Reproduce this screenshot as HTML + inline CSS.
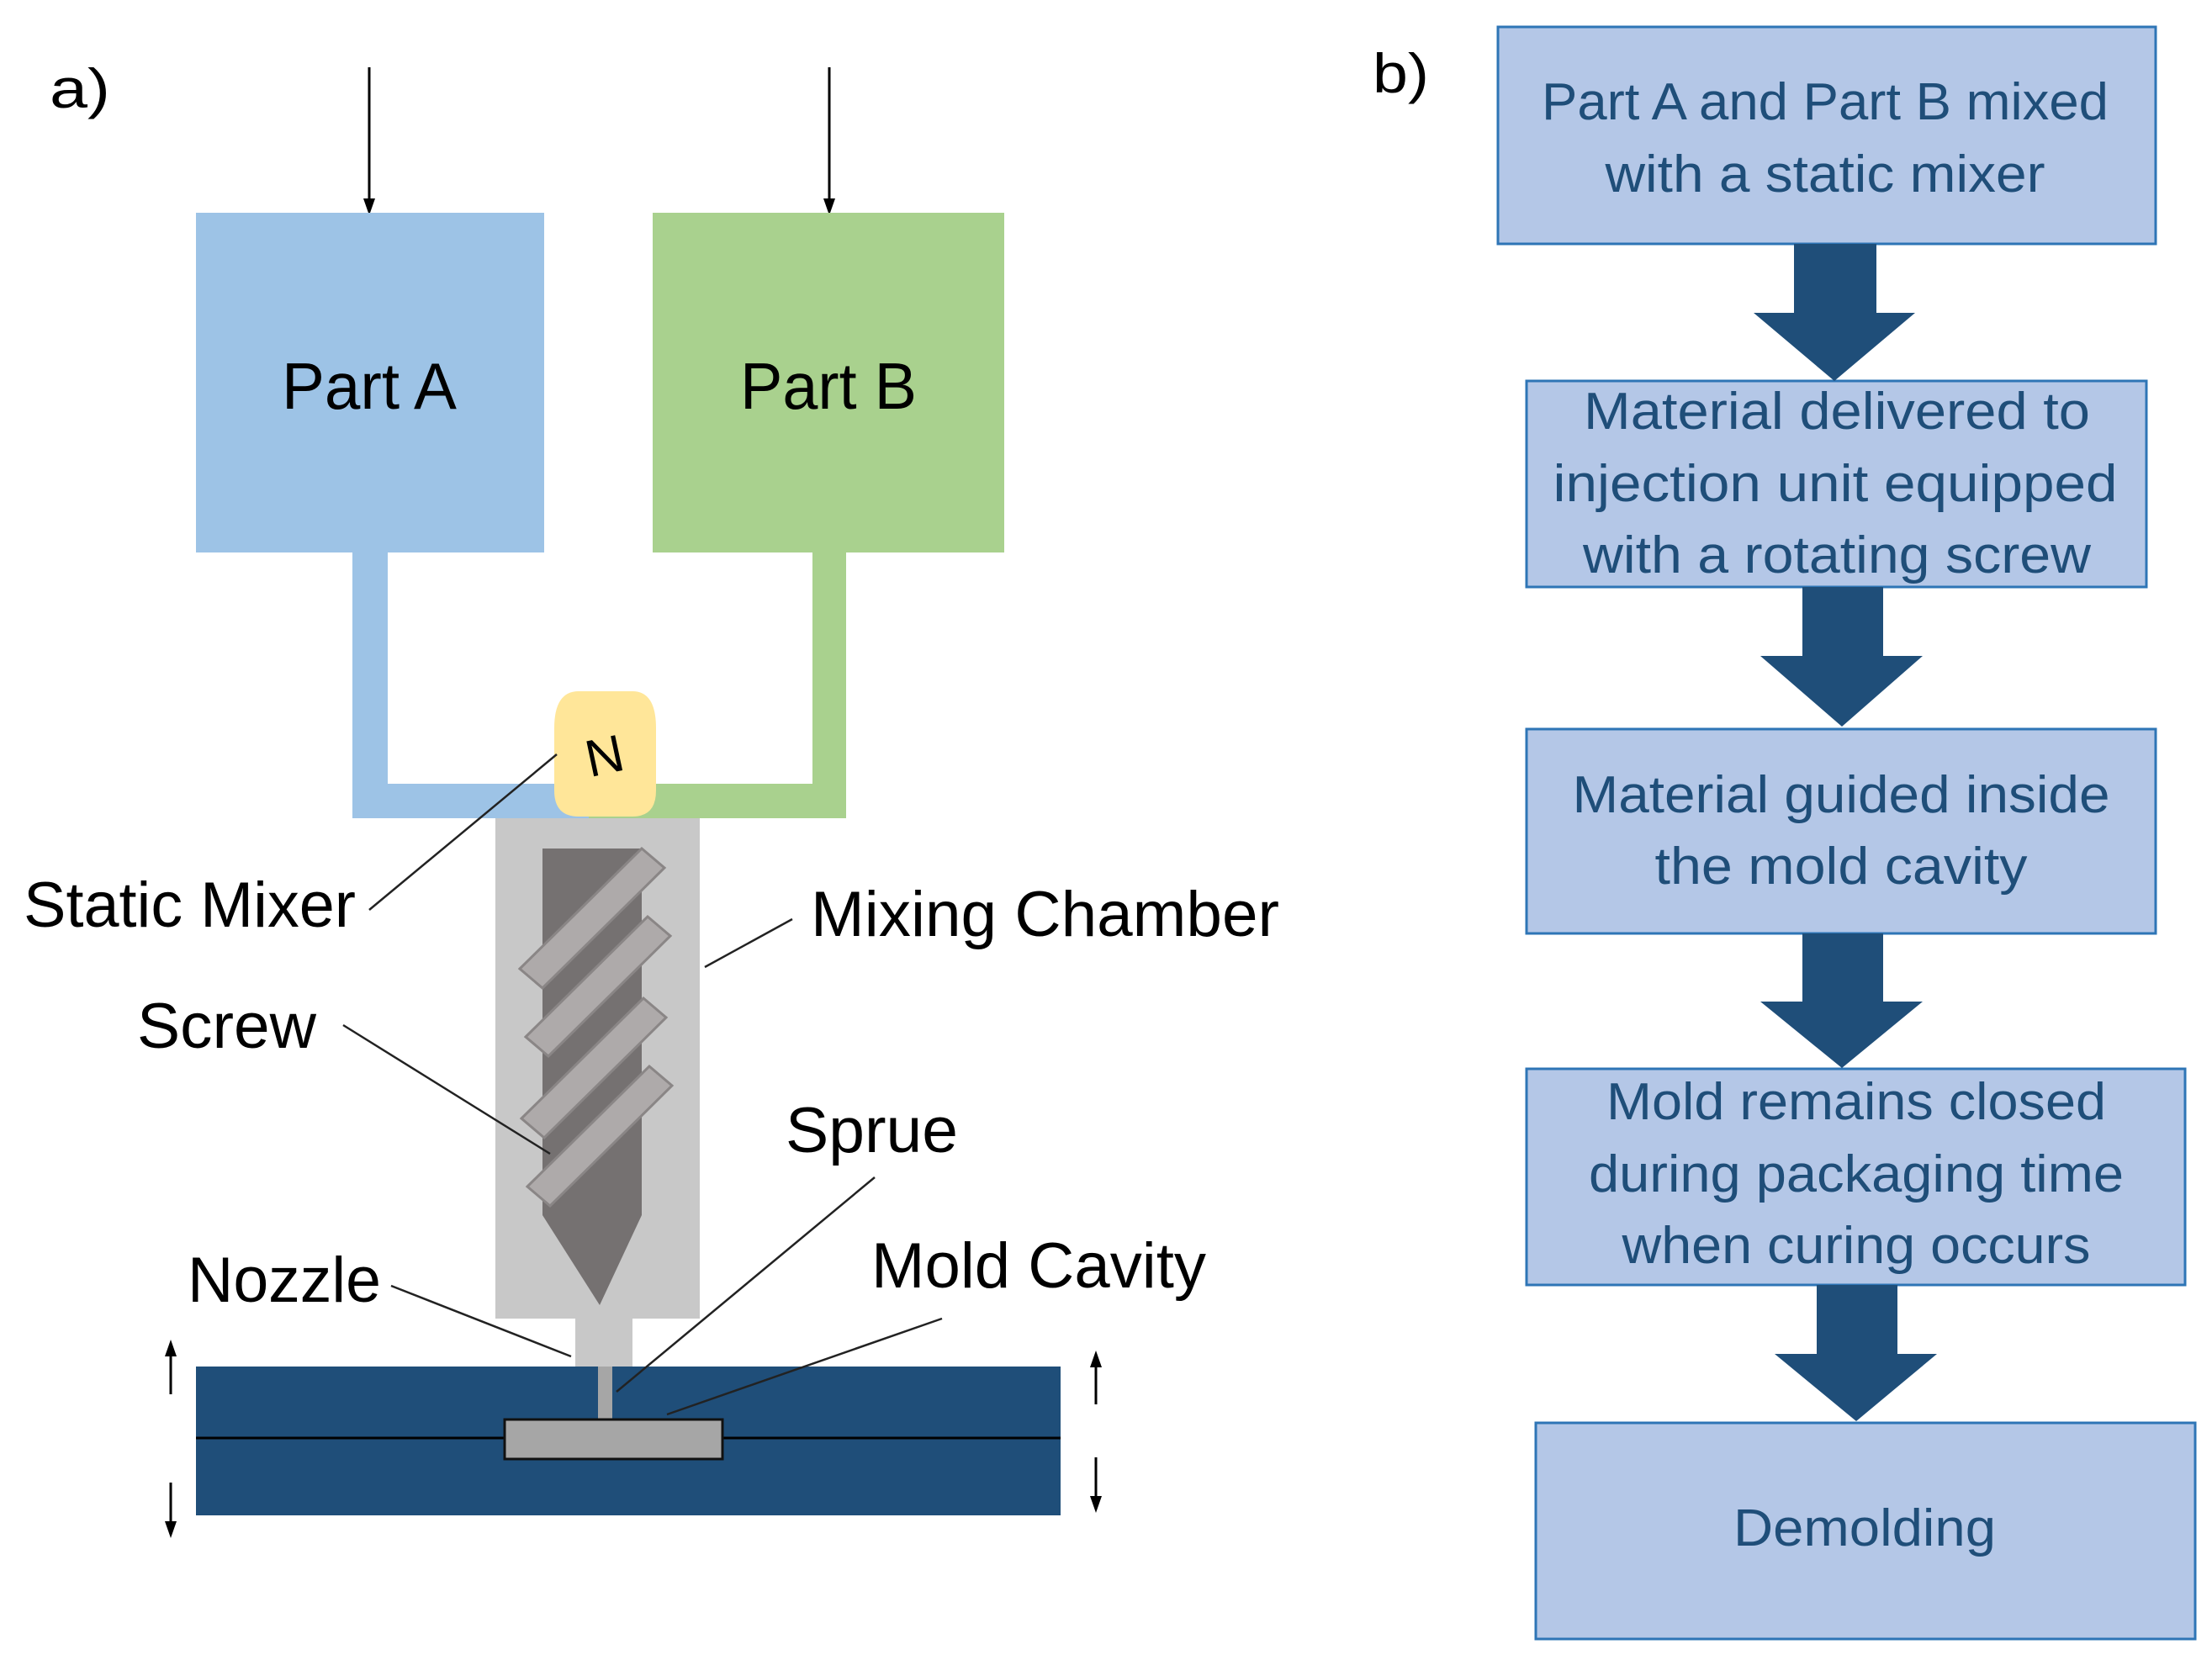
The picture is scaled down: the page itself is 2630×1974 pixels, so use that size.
<!DOCTYPE html>
<html><head><meta charset="utf-8"><style>html,body{margin:0;padding:0;background:#fff}svg{display:block}</style></head><body>
<svg width="2630" height="1974" viewBox="0 0 2630 1974" xmlns="http://www.w3.org/2000/svg">
<defs>
<marker id="ah2" markerWidth="20" markerHeight="20" refX="16" refY="10" orient="auto" markerUnits="userSpaceOnUse" viewBox="0 0 20 20"><path d="M0,3 L20,10 L0,17 z" fill="#000"/></marker>
</defs>
<g font-family="Liberation Sans, Arial, sans-serif" fill="#000">
<text x="59" y="128" font-size="66" textLength="72" lengthAdjust="spacingAndGlyphs">a)</text>
<line x1="439" y1="80" x2="439" y2="252" stroke="#000" stroke-width="3" marker-end="url(#ah2)"/>
<line x1="986" y1="80" x2="986" y2="252" stroke="#000" stroke-width="3" marker-end="url(#ah2)"/>
<rect x="233" y="253" width="414" height="404" fill="#9dc3e6"/>
<rect x="776" y="253" width="418" height="404" fill="#a9d18e"/>
<text x="335" y="486" font-size="78" textLength="208" lengthAdjust="spacingAndGlyphs">Part A</text>
<text x="880" y="486" font-size="78" textLength="210" lengthAdjust="spacingAndGlyphs">Part B</text>
<path d="M419,657 H461 V932 H700 V973 H419 Z" fill="#9dc3e6"/>
<path d="M966,657 H1006 V973 H700 V932 H966 Z" fill="#a9d18e"/>
<rect x="589" y="973" width="243" height="595" fill="#c8c8c8"/>
<rect x="684" y="1566" width="68" height="60" fill="#c8c8c8"/>
<path d="M645,1009 H763 V1445 L713,1552 L645,1445 Z" fill="#757171"/>
<g fill="#aeaaaa" stroke="#8a8686" stroke-width="3">
<polygon points="618,1152 763,1009 790,1032 645,1175"/>
<polygon points="625,1233 770,1090 797,1113 652,1256"/>
<polygon points="620,1330 765,1187 792,1210 647,1353"/>
<polygon points="627,1411 772,1268 799,1291 654,1434"/>
</g>
<path d="M688,822 H752 Q780,822 780,866 Q780,910 780,940 Q780,971 752,971 H688 Q659,971 659,940 Q659,900 659,866 Q659,822 688,822 Z" fill="#ffe699"/>
<text x="719" y="920" font-size="62" text-anchor="middle" transform="rotate(-12 719 900)">N</text>
<rect x="233" y="1625" width="1028" height="177" fill="#1f4e79"/>
<line x1="233" y1="1710" x2="1261" y2="1710" stroke="#000" stroke-width="3"/>
<rect x="711" y="1625" width="17" height="64" fill="#a6a6a6"/>
<rect x="600" y="1688" width="259" height="47" fill="#a6a6a6" stroke="#111" stroke-width="3"/>
<g stroke="#222" stroke-width="2.5">
<line x1="439" y1="1082" x2="662" y2="897"/>
<line x1="838" y1="1150" x2="942" y2="1093"/>
<line x1="408" y1="1219" x2="654" y2="1372"/>
<line x1="465" y1="1529" x2="679" y2="1613"/>
<line x1="1040" y1="1400" x2="733" y2="1655"/>
<line x1="1120" y1="1568" x2="793" y2="1682"/>
</g>
<line x1="203" y1="1658" x2="203" y2="1597" stroke="#000" stroke-width="3" marker-end="url(#ah2)"/>
<line x1="203" y1="1763" x2="203" y2="1825" stroke="#000" stroke-width="3" marker-end="url(#ah2)"/>
<line x1="1303" y1="1670" x2="1303" y2="1610" stroke="#000" stroke-width="3" marker-end="url(#ah2)"/>
<line x1="1303" y1="1733" x2="1303" y2="1795" stroke="#000" stroke-width="3" marker-end="url(#ah2)"/>
<g font-size="76">
<text x="28" y="1102" textLength="395" lengthAdjust="spacingAndGlyphs">Static Mixer</text>
<text x="964" y="1113" textLength="557" lengthAdjust="spacingAndGlyphs">Mixing Chamber</text>
<text x="163" y="1246" textLength="213" lengthAdjust="spacingAndGlyphs">Screw</text>
<text x="934" y="1370" textLength="205" lengthAdjust="spacingAndGlyphs">Sprue</text>
<text x="223" y="1548" textLength="230" lengthAdjust="spacingAndGlyphs">Nozzle</text>
<text x="1036" y="1531" textLength="398" lengthAdjust="spacingAndGlyphs">Mold Cavity</text>
</g>
<text x="1632" y="110" font-size="66" textLength="67" lengthAdjust="spacingAndGlyphs">b)</text>
<g fill="#b4c7e7" stroke="#2e75b6" stroke-width="3">
<rect x="1781" y="32" width="782" height="258"/>
<rect x="1815" y="453" width="737" height="245"/>
<rect x="1815" y="867" width="748" height="243"/>
<rect x="1815" y="1271" width="783" height="257"/>
<rect x="1826" y="1692" width="784" height="257"/>
</g>
<g fill="#1f4e79">
<polygon points="2133,290 2231,290 2231,372 2277,372 2181,453 2085,372 2133,372"/>
<polygon points="2143,698 2239,698 2239,780 2286,780 2190,864 2093,780 2143,780"/>
<polygon points="2143,1110 2239,1110 2239,1191 2286,1191 2190,1270 2093,1191 2143,1191"/>
<polygon points="2160,1528 2256,1528 2256,1610 2303,1610 2207,1690 2110,1610 2160,1610"/>
</g>
<g fill="#1f4e79" font-size="62" text-anchor="middle">
<text x="2170" y="142" textLength="674" lengthAdjust="spacingAndGlyphs">Part A and Part B mixed</text>
<text x="2170" y="228" textLength="523" lengthAdjust="spacingAndGlyphs">with a static mixer</text>
<text x="2184" y="510" textLength="602" lengthAdjust="spacingAndGlyphs">Material delivered to</text>
<text x="2182" y="596" textLength="671" lengthAdjust="spacingAndGlyphs">injection unit equipped</text>
<text x="2184" y="681" textLength="604" lengthAdjust="spacingAndGlyphs">with a rotating screw</text>
<text x="2189" y="966" textLength="639" lengthAdjust="spacingAndGlyphs">Material guided inside</text>
<text x="2189" y="1051" textLength="443" lengthAdjust="spacingAndGlyphs">the mold cavity</text>
<text x="2207" y="1331" textLength="594" lengthAdjust="spacingAndGlyphs">Mold remains closed</text>
<text x="2207" y="1417" textLength="636" lengthAdjust="spacingAndGlyphs">during packaging time</text>
<text x="2207" y="1502" textLength="557" lengthAdjust="spacingAndGlyphs">when curing occurs</text>
<text x="2217" y="1838" textLength="312" lengthAdjust="spacingAndGlyphs">Demolding</text>
</g>
</g>
</svg>
</body></html>
